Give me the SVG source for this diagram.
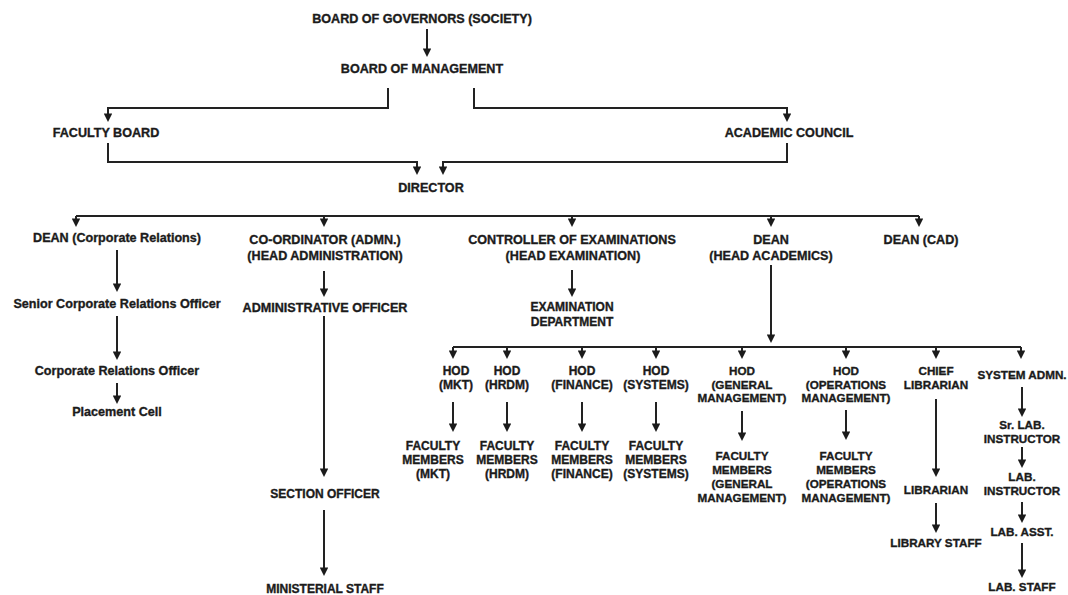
<svg xmlns="http://www.w3.org/2000/svg" width="1068" height="595" viewBox="0 0 1068 595">
<style>
text{font-family:"Liberation Sans",Arial,sans-serif;font-weight:700;fill:#1b1b1b;stroke:#1b1b1b;stroke-width:0.35px;text-anchor:middle}
.a{font-size:12.6px}
.b{font-size:12px}
.c{font-size:11.7px}
.ln{fill:none;stroke:#222222;stroke-width:2}
.ar{marker-end:url(#ah)}
</style>
<defs>
<marker id="ah" viewBox="0 0 10 10" refX="3" refY="5" markerWidth="8.5" markerHeight="8.5" markerUnits="userSpaceOnUse" orient="auto">
<path d="M0,0 L10,5 L0,10 z" fill="#1b1b1b"/>
</marker>
</defs>
<rect width="1068" height="595" fill="#ffffff"/>
<g id="connectors">
<path class="ln ar" d="M427,29 V51"/>
<path class="ln ar" d="M388,88 V108 H108 V116"/>
<path class="ln ar" d="M474,88 V108 H787 V116"/>
<path class="ln ar" d="M108,143 V162 H417 V169"/>
<path class="ln ar" d="M787,143 V162 H443 V169"/>
<path class="ln" d="M76,216 H919"/>
<path class="ln ar" d="M76,216 V221"/>
<path class="ln ar" d="M324,216 V221"/>
<path class="ln ar" d="M572,216 V221"/>
<path class="ln ar" d="M771,216 V221"/>
<path class="ln ar" d="M919,216 V221"/>
<path class="ln ar" d="M117,250 V286"/>
<path class="ln ar" d="M117,316 V354"/>
<path class="ln ar" d="M117,383 V398"/>
<path class="ln ar" d="M324,271 V291"/>
<path class="ln ar" d="M324,316 V471"/>
<path class="ln ar" d="M324,510 V570"/>
<path class="ln ar" d="M572,270 V291"/>
<path class="ln ar" d="M771,265 V337"/>
<path class="ln" d="M453,347 H1021"/>
<path class="ln ar" d="M453,347 V353"/>
<path class="ln ar" d="M507,347 V353"/>
<path class="ln ar" d="M582,347 V353"/>
<path class="ln ar" d="M656,347 V353"/>
<path class="ln ar" d="M742,347 V353"/>
<path class="ln ar" d="M846,347 V353"/>
<path class="ln ar" d="M936,347 V353"/>
<path class="ln ar" d="M1021,347 V353"/>
<path class="ln ar" d="M453,402 V426"/>
<path class="ln ar" d="M507,402 V426"/>
<path class="ln ar" d="M582,402 V426"/>
<path class="ln ar" d="M656,402 V426"/>
<path class="ln ar" d="M742,411 V435"/>
<path class="ln ar" d="M846,410 V434"/>
<path class="ln ar" d="M936,399 V471"/>
<path class="ln ar" d="M936,503 V527"/>
<path class="ln ar" d="M1022,387 V411"/>
<path class="ln ar" d="M1022,447 V462"/>
<path class="ln ar" d="M1022,502 V517"/>
<path class="ln ar" d="M1022,543 V572"/>
</g>
<g id="n-bog"><text class="a" x="422" y="22.5">BOARD OF GOVERNORS (SOCIETY)</text></g>
<g id="n-bom"><text class="a" x="422" y="72.5">BOARD OF MANAGEMENT</text></g>
<g id="n-fb"><text class="a" x="106" y="136.5">FACULTY BOARD</text></g>
<g id="n-ac"><text class="a" x="789" y="136.5">ACADEMIC COUNCIL</text></g>
<g id="n-dir"><text class="a" x="431" y="191.5">DIRECTOR</text></g>
<g id="n-deancr"><text class="a" x="117" y="241.5">DEAN (Corporate Relations)</text></g>
<g id="n-coord"><text class="a" x="325" y="243.5">CO-ORDINATOR (ADMN.)</text><text class="a" x="325" y="259.5">(HEAD ADMINISTRATION)</text></g>
<g id="n-coe"><text class="a" x="572" y="243.5">CONTROLLER OF EXAMINATIONS</text><text class="a" x="573" y="259.5">(HEAD EXAMINATION)</text></g>
<g id="n-dean"><text class="a" x="771" y="243.5">DEAN</text><text class="a" x="771" y="259.5">(HEAD ACADEMICS)</text></g>
<g id="n-cad"><text class="a" x="921" y="243.5">DEAN (CAD)</text></g>
<g id="n-scro"><text class="a" x="117" y="307.5">Senior Corporate Relations Officer</text></g>
<g id="n-cro"><text class="a" x="117" y="374.5">Corporate Relations Officer</text></g>
<g id="n-pc"><text class="a" x="117" y="415.5">Placement Cell</text></g>
<g id="n-ao"><text class="a" x="325" y="311.5">ADMINISTRATIVE OFFICER</text></g>
<g id="n-so"><text class="b" x="325" y="497.5">SECTION OFFICER</text></g>
<g id="n-ms"><text class="b" x="325" y="593">MINISTERIAL STAFF</text></g>
<g id="n-ed"><text class="b" x="572" y="310.5">EXAMINATION</text><text class="b" x="572" y="325.5">DEPARTMENT</text></g>
<g id="n-hod-mkt"><text class="b" x="456" y="374.5">HOD</text><text class="b" x="456" y="388.5">(MKT)</text></g>
<g id="n-hod-hrdm"><text class="b" x="507" y="374.5">HOD</text><text class="b" x="507" y="388.5">(HRDM)</text></g>
<g id="n-hod-fin"><text class="b" x="582" y="374.5">HOD</text><text class="b" x="582" y="388.5">(FINANCE)</text></g>
<g id="n-hod-sys"><text class="b" x="656" y="374.5">HOD</text><text class="b" x="656" y="388.5">(SYSTEMS)</text></g>
<g id="n-hod-gm"><text class="c" x="742" y="374.5">HOD</text><text class="c" x="742" y="388.5">(GENERAL</text><text class="c" x="742" y="401.5">MANAGEMENT)</text></g>
<g id="n-hod-om"><text class="c" x="846" y="374.5">HOD</text><text class="c" x="846" y="388.5">(OPERATIONS</text><text class="c" x="846" y="401.5">MANAGEMENT)</text></g>
<g id="n-chief"><text class="c" x="936" y="374.5">CHIEF</text><text class="c" x="936" y="388.5">LIBRARIAN</text></g>
<g id="n-sysadm"><text class="c" x="1022" y="378.5">SYSTEM ADMN.</text></g>
<g id="n-fm-mkt"><text class="b" x="433" y="449.5">FACULTY</text><text class="b" x="433" y="463.5">MEMBERS</text><text class="b" x="433" y="478">(MKT)</text></g>
<g id="n-fm-hrdm"><text class="b" x="507" y="449.5">FACULTY</text><text class="b" x="507" y="463.5">MEMBERS</text><text class="b" x="507" y="478">(HRDM)</text></g>
<g id="n-fm-fin"><text class="b" x="582" y="449.5">FACULTY</text><text class="b" x="582" y="463.5">MEMBERS</text><text class="b" x="582" y="478">(FINANCE)</text></g>
<g id="n-fm-sys"><text class="b" x="656" y="449.5">FACULTY</text><text class="b" x="656" y="463.5">MEMBERS</text><text class="b" x="656" y="478">(SYSTEMS)</text></g>
<g id="n-fm-gm"><text class="c" x="742" y="459.5">FACULTY</text><text class="c" x="742" y="473.5">MEMBERS</text><text class="c" x="742" y="488">(GENERAL</text><text class="c" x="742" y="502">MANAGEMENT)</text></g>
<g id="n-fm-om"><text class="c" x="846" y="460">FACULTY</text><text class="c" x="846" y="473.5">MEMBERS</text><text class="c" x="846" y="488">(OPERATIONS</text><text class="c" x="846" y="502">MANAGEMENT)</text></g>
<g id="n-lib"><text class="c" x="936" y="494">LIBRARIAN</text></g>
<g id="n-libstaff"><text class="c" x="936" y="547">LIBRARY STAFF</text></g>
<g id="n-srlab"><text class="c" x="1022" y="429">Sr. LAB.</text><text class="c" x="1022" y="442.5">INSTRUCTOR</text></g>
<g id="n-labinst"><text class="c" x="1022" y="481">LAB.</text><text class="c" x="1022" y="495">INSTRUCTOR</text></g>
<g id="n-labasst"><text class="c" x="1022" y="536">LAB. ASST.</text></g>
<g id="n-labstaff"><text class="c" x="1022" y="591">LAB. STAFF</text></g>
</svg>
